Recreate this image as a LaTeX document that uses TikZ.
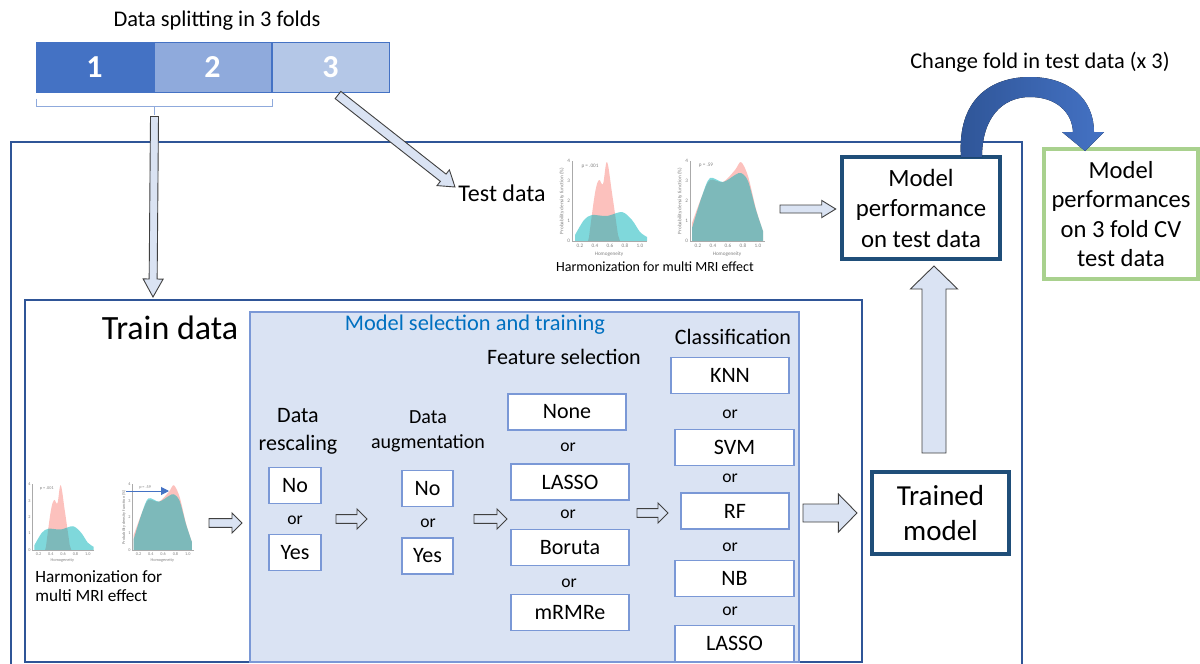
\documentclass[tikz,border=0pt]{standalone}
\usepackage{fontspec}
\setmainfont{Carlito}
\usetikzlibrary{arrows.meta,positioning,calc}
\definecolor{FrameBlue}{RGB}{47,85,151}
\definecolor{ArcDark}{RGB}{47,85,151}
\definecolor{FoldDark}{RGB}{68,114,196}
\definecolor{FoldMid}{RGB}{143,170,220}
\definecolor{FoldLight}{RGB}{180,199,231}
\definecolor{PaleBlue}{RGB}{218,227,243}
\definecolor{OptBlue}{RGB}{122,152,214}
\definecolor{TitleBlue}{RGB}{0,112,192}
\definecolor{DeepBlue}{RGB}{31,78,121}
\definecolor{CvGreen}{RGB}{169,209,142}
\definecolor{ArrowEdge}{RGB}{64,64,64}
\definecolor{PlotRed}{RGB}{248,118,109}
\definecolor{PlotTeal}{RGB}{0,178,184}
\definecolor{PlotAxis}{RGB}{170,170,170}
\tikzset{
  frame/.style={
    draw=FrameBlue,
    line width=1.3pt
  },
  trainframe/.style={
    draw=FrameBlue,
    line width=1pt
  },
  selframe/.style={
    draw=OptBlue,
    fill=PaleBlue,
    line width=0.8pt
  },
  fold/.style={
    draw=FoldDark,
    line width=0.5pt,
    minimum width=58.5pt,
    minimum height=25pt,
    inner sep=0pt,
    text=white,
    font=\fontsize{16}{19}\selectfont\bfseries
  },
  optbox/.style={
    draw=OptBlue,
    line width=0.8pt,
    fill=white,
    inner sep=0pt,
    minimum height=18pt,
    font=\fontsize{11}{13}\selectfont
  },
  ortext/.style={
    inner sep=0pt,
    font=\fontsize{8.8}{10}\selectfont
  },
  head/.style={
    inner sep=0pt,
    align=center,
    font=\fontsize{11}{14}\selectfont
  },
  resultbox/.style={
    draw=DeepBlue,
    line width=2.3pt,
    fill=white,
    align=center,
    inner sep=0pt
  },
  blockarr/.style={
    draw=ArrowEdge,
    fill=PaleBlue,
    line width=0.45pt,
    line join=miter
  },
  plottiny/.style={
    inner sep=0pt,
    text=gray,
    font=\fontsize{2.6}{3}\selectfont
  },
  plotaxis/.style={
    draw=PlotAxis,
    line width=0.3pt
  }
}
% hollow block arrow: [opts]{from}{to}{half shaft}{half head}{head length}
\newcommand{\blockarrow}[6][]{%
  \coordinate (ba-base) at ($(#3)!#6!(#2)$);
  \draw[blockarr,#1] ($(#2)!#4!90:(#3)$) -- ($(ba-base)!#4!90:(#3)$)
    -- ($(ba-base)!#5!90:(#3)$) -- (#3) -- ($(ba-base)!#5!-90:(#3)$)
    -- ($(ba-base)!#4!-90:(#3)$) -- ($(#2)!#4!-90:(#3)$) -- cycle;
}
% axes of a density plot, #1 = y label
\newcommand{\plotframe}[1]{%
  \draw[plotaxis] (0,-80) -- (0,0) -- (75,0);
  \foreach \t/\v in {0/0,20/1,40/2,60/3,80/4}
    \node[plottiny,left] at (-1.5,-\t) {\v};
  \foreach \t/\v in {8/0.2,23/0.4,38/0.6,53/0.8,68/1.0}
    \node[plottiny] at (\t,4.5) {\v};
  \node[plottiny] at (37,13) {Homogeneity};
  \node[plottiny,rotate=90] at (-10,-40) {#1};
}
% corner x, corner y, scale, y label
\newcommand{\plotbefore}[4]{%
  \begin{scope}[shift={(#1,#2)},scale=#3,transform shape]
    \fill[PlotRed,opacity=0.45] (16,0) -- plot[smooth,tension=0.6] coordinates
      {(17,-4) (23,-48) (27,-61) (31,-57) (35,-79) (40,-48) (46,-6)} -- (48,0) -- cycle;
    \fill[PlotTeal,opacity=0.5] (3,0) -- plot[smooth] coordinates
      {(3,-6) (12,-21) (20,-26) (35,-25) (50,-29) (60,-21) (68,-9) (75,-4)} -- (75,0) -- cycle;
    \plotframe{#4}
    \node[plottiny] at (18,-75) {p = .001};
  \end{scope}}
\newcommand{\plotafter}[4]{%
  \begin{scope}[shift={(#1,#2)},scale=#3,transform shape]
    \fill[PlotRed,opacity=0.45] (2,0) -- plot[smooth] coordinates
      {(2,-18) (12,-45) (20,-61) (33,-59) (45,-71) (51,-79) (58,-65) (66,-32) (73,-10)} -- (73,0) -- cycle;
    \fill[PlotTeal,opacity=0.5] (2,0) -- plot[smooth] coordinates
      {(2,-13) (12,-45) (20,-63) (33,-59) (45,-66) (51,-68) (58,-60) (66,-31) (73,-10)} -- (73,0) -- cycle;
    \plotframe{#4}
    \node[plottiny] at (16,-76) {p = .59};
  \end{scope}}

\begin{document}
\begin{tikzpicture}[x=0.5pt,y=-0.5pt]
\useasboundingbox (0,0) rectangle (1200,664);
\clip (0,0) rectangle (1200,664);

% folds
\node[font=\fontsize{11.2}{13}\selectfont] (splittitle) at (217,21) {Data splitting in 3 folds};
\node[fold,fill=FoldDark] (fold1) at (94.5,67) {1};
\node[fold,fill=FoldMid,right=0pt of fold1] (fold2) {2};
\node[fold,fill=FoldLight,right=0pt of fold2] (fold3) {3};
\draw[FoldMid,line width=0.6pt] ($(fold1.south west)+(1,6)$) -- ++(0,8) -| ($(fold2.south east)+(1,6)$);
\coordinate (split) at ($(fold1.south east)+(1,14)$);
\draw[FoldMid,line width=0.6pt] (split) -- ++(0,8);

% frames
\draw[frame] (11,142) rectangle (1022,720);
\draw[trainframe] (25,300) rectangle (862,662);
\draw[selframe] (250,312) rectangle (799,662);

% test data
\node[anchor=west,inner sep=0pt,font=\fontsize{12}{14}\selectfont] (testdata) at (458,193) {Test data};
\plotbefore{572}{241}{1}{Probability density function (\%)}
\plotafter{690}{241}{1}{Probability density function (\%)}
\node[inner sep=0pt,font=\fontsize{7}{8}\selectfont] (testharm) at (655,267) {Harmonization for multi MRI effect};

% results
\node[resultbox,minimum width=79pt,minimum height=51pt,font=\fontsize{12.4}{15.25}\selectfont] (perf) at (921,208) {Model\\performance\\on test data};
\node[draw=CvGreen,line width=2pt,fill=white,align=center,inner sep=0pt,minimum width=77pt,minimum height=65pt,font=\fontsize{12.3}{14.75}\selectfont] (cv) at (1121,214) {Model\\performances\\on 3 fold CV\\test data};
\node[resultbox,minimum width=68.5pt,minimum height=41pt,font=\fontsize{14.5}{17.5}\selectfont] (trained) at (940.5,513) {Trained\\model};
\node[font=\fontsize{11.2}{13}\selectfont] (changefold) at (1040,62) {Change fold in test data (x 3)};

% train data
\node[inner sep=0pt,font=\fontsize{17}{20}\selectfont] (traintitle) at (170,328) {Train data};
\plotbefore{32}{550}{0.82}{}
\plotafter{132}{550}{0.82}{Probability density function (\%)}
\coordinate (shifta) at (126,491);
\coordinate (shiftb) at (169,491);
\draw[FoldDark,line width=0.5pt,-{Triangle[length=4pt,width=4pt]}] (shifta) -- (shiftb);
\node[anchor=west,align=left,inner sep=0pt,font=\fontsize{8.6}{9.5}\selectfont] (trainharm) at (35,586) {Harmonization for\\multi MRI effect};

\node[inner sep=0pt,text=TitleBlue,font=\fontsize{11.2}{13}\selectfont] (seltitle) at (475,325) {Model selection and training};

% data rescaling
\node[head] (resc) at (298,431) {Data\\rescaling};
\node[optbox,minimum width=26pt] (rescno) at (295,485.5) {No};
\node[ortext] (rescor) at (295,520) {or};
\node[optbox,minimum width=26pt] (rescyes) at (295,552.5) {Yes};

% data augmentation
\node[head,font=\fontsize{10}{12.5}\selectfont] (aug) at (428,431.5) {Data\\augmentation};
\node[optbox,minimum width=25.5pt] (augno) at (427.5,488.5) {No};
\node[ortext] (augor) at (428,523) {or};
\node[optbox,minimum width=25.5pt] (augyes) at (427.5,556) {Yes};

% feature selection
\node[head] (feat) at (564,357) {Feature selection};
\node[optbox,minimum width=59pt] (fnone) at (567,412) {None};
\node[ortext] (for1) at (568,447) {or};
\node[optbox,minimum width=59pt] (flasso) at (570,482) {LASSO};
\node[ortext] (for2) at (568,514) {or};
\node[optbox,minimum width=59pt] (fboruta) at (570,547.5) {Boruta};
\node[ortext] (for3) at (569,583) {or};
\node[optbox,minimum width=59pt] (fmrmr) at (570,612.5) {mRMRe};

% classification
\node[head] (cls) at (733,337) {Classification};
\node[optbox,minimum width=59pt] (cknn) at (730,375.5) {KNN};
\node[ortext] (cor1) at (730,414) {or};
\node[optbox,minimum width=59.5pt] (csvm) at (734.5,447.5) {SVM};
\node[ortext] (cor2) at (730,478) {or};
\node[optbox,minimum width=54pt] (crf) at (735,511) {RF};
\node[ortext] (cor3) at (730,547) {or};
\node[optbox,minimum width=59.5pt] (cnb) at (734.5,578.5) {NB};
\node[ortext] (cor4) at (730,611) {or};
\node[optbox,minimum width=59.5pt] (classo) at (734.5,643.5) {LASSO};

% block arrows
\coordinate (trainin) at (153,297);
\coordinate (foldout) at (338,95);
\coordinate (testin) at (455,187);
\coordinate (testout) at (780,209);
\coordinate (perfin) at ($(perf.west)+(-4,1)$);
\coordinate (harmout) at (209,523);
\coordinate (rescin) at (242,523);
\coordinate (rescout) at (336,519);
\coordinate (augin) at (367,519);
\coordinate (augout) at (474,519);
\coordinate (featin) at (507,519);
\coordinate (featout) at (637,513);
\coordinate (clsin) at (668,513);
\coordinate (clsout) at (803,513);
\coordinate (trainedin) at (857,513);
\coordinate (trainedout) at (934,453);
\coordinate (perfbelow) at (934,266);

\blockarrow{$(split)+(0,10)$}{trainin}{2pt}{5pt}{9pt}
\blockarrow{foldout}{testin}{2.3pt}{5pt}{7.5pt}
\blockarrow{testout}{perfin}{2pt}{4.3pt}{7pt}
\blockarrow{harmout}{rescin}{2.2pt}{5pt}{5pt}
\blockarrow{rescout}{augin}{2.2pt}{5pt}{5pt}
\blockarrow{augout}{featin}{2.2pt}{5pt}{5pt}
\blockarrow{featout}{clsin}{2.2pt}{5pt}{5pt}
\blockarrow{clsout}{trainedin}{4.5pt}{9.5pt}{9.3pt}
\blockarrow{trainedout}{perfbelow}{6pt}{11.8pt}{11.5pt}

% loop to next fold
\coordinate (looptip) at (1085,151);
\fill[left color=ArcDark,right color=FoldDark] (961,157) .. controls (957,100) and (990,77) .. (1030,77)
  .. controls (1070,77) and (1094,100) .. (1094,132) -- (1104,132) -- (looptip) -- (1062,132) -- (1073,132)
  .. controls (1072,112) and (1056,97) .. (1030,97) .. controls (1002,97) and (982,118) .. (982,157) -- cycle;

\end{tikzpicture}
\end{document}
